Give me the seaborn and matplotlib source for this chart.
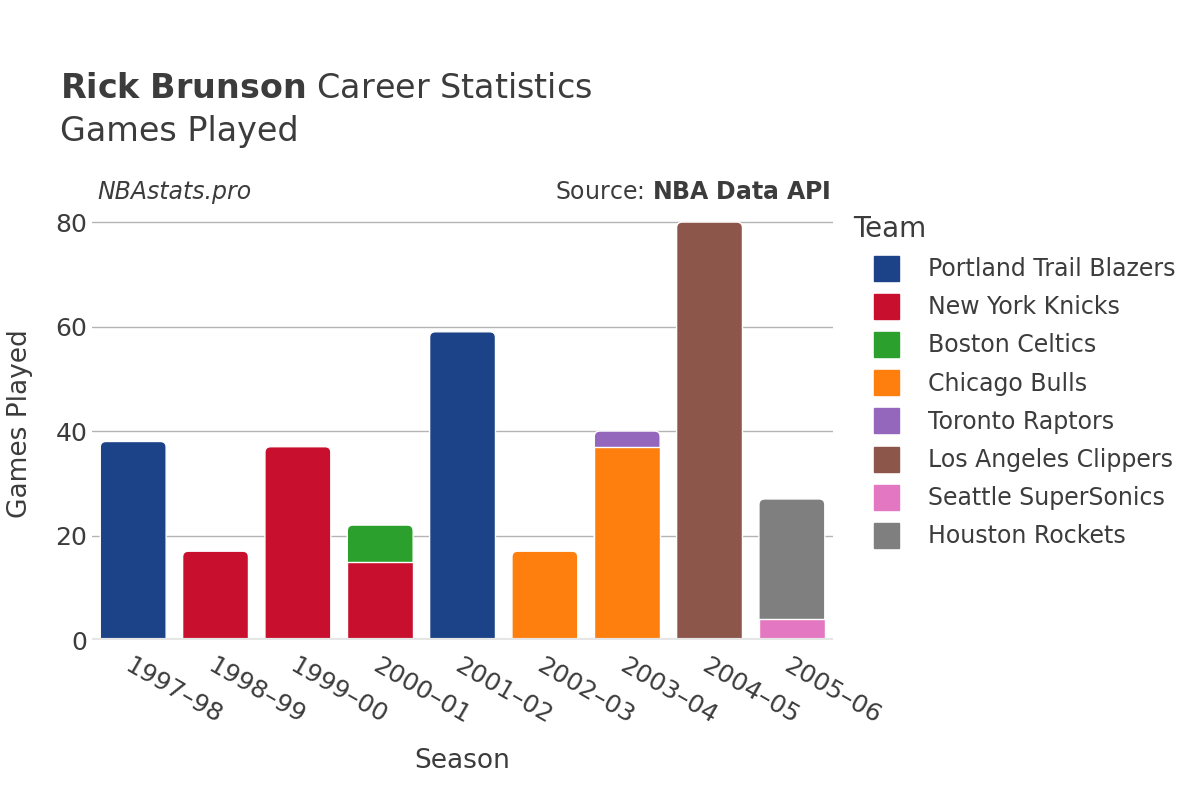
import numpy as np
import pandas as pd
import matplotlib
matplotlib.use('Agg')
import matplotlib.pyplot as plt
from matplotlib.patches import FancyBboxPatch
from matplotlib.lines import Line2D
import seaborn as sns

# data
seasons = ['1997–98', '1998–99', '1999–00', '2000–01', '2001–02',
           '2002–03', '2003–04', '2004–05', '2005–06']
teams = ['Portland Trail Blazers', 'New York Knicks', 'Boston Celtics', 'Chicago Bulls',
         'Toronto Raptors', 'Los Angeles Clippers', 'Seattle SuperSonics', 'Houston Rockets']
colors = ['#1c4387', '#c8102e', '#2ca02c', '#ff7f0e',
          '#9467bd', '#8c564b', '#e377c2', '#7f7f7f']
row_season = ['1997–98', '1998–99', '1999–00', '2000–01', '2000–01', '2001–02',
              '2002–03', '2003–04', '2003–04', '2004–05', '2005–06', '2005–06']
row_team = ['Portland Trail Blazers', 'New York Knicks', 'New York Knicks', 'New York Knicks',
            'Boston Celtics', 'Portland Trail Blazers', 'Chicago Bulls', 'Chicago Bulls',
            'Toronto Raptors', 'Los Angeles Clippers', 'Seattle SuperSonics', 'Houston Rockets']
row_games = [38, 17, 37, 15, 7, 59, 17, 37, 3, 80, 4, 23]

df = pd.DataFrame({'season': row_season, 'team': row_team, 'games': row_games})
df['rank'] = df['team'].map({t: i for i, t in enumerate(teams)})
df = df.sort_values(['season', 'rank'])
df['top'] = df.groupby('season')['games'].cumsum()

sns.set_style('white')
plt.rcParams['font.family'] = ['DejaVu Sans']
txt = '#3c3c3c'

fig = plt.figure(figsize=(12, 8), dpi=100)
ax = fig.add_axes([0.0767, 0.2, 0.6175, 0.542])
ax.set_ylim(0, 83)

for y in [20, 40, 60, 80]:
    ax.axhline(y, color='#b4b4b4', lw=1, zorder=0)

# stack by drawing the cumulative tops from the last team down
seen = set()
for team, col in reversed(list(zip(teams, colors))):
    sub = df[df['team'] == team]
    if sub.empty:
        continue
    before = list(ax.patches)
    sns.barplot(data=sub, x='season', y='top', order=seasons, color=col,
                width=0.8, edgecolor='white', linewidth=1, ax=ax, errorbar=None,
                saturation=1)
    new = [p for p in ax.patches if p not in before]
    for p in new:
        h = p.get_height()
        if not np.isfinite(h) or h <= 0:
            continue
        idx = int(round(p.get_x() + p.get_width() / 2))
        if idx in seen:
            continue
        # topmost segment of a season gets rounded corners
        seen.add(idx)
        x0, w = p.get_x(), p.get_width()
        p.remove()
        ax.add_patch(FancyBboxPatch((x0, -3), w, h + 3,
                                    boxstyle='round,pad=0,rounding_size=0.07',
                                    mutation_aspect=15.5, facecolor=col,
                                    edgecolor='white', linewidth=1))

ax.axhline(0, color='#e6e6e6', lw=3, zorder=3)
ax.set_xlim(-0.5, len(seasons) - 0.5)
sns.despine(ax=ax, left=True, bottom=True)
ax.set_yticks([0, 20, 40, 60, 80])
ax.tick_params(axis='both', length=0, labelsize=18, colors=txt)
ax.tick_params(axis='x', pad=10)
ax.set_xticks(range(len(seasons)))
ax.set_xticklabels(seasons, rotation=-30, ha='left', rotation_mode='anchor')
ax.set_xlabel('Season', fontsize=19, color=txt, labelpad=14)
ax.set_ylabel('Games Played', fontsize=19, color=txt, labelpad=16)

fig.text(0.05, 0.889, r'$\bf{Rick\ Brunson}$ Career Statistics', fontsize=24,
         color=txt, va='center')
fig.text(0.05, 0.835, 'Games Played', fontsize=24, color=txt, va='center')
fig.text(0.081, 0.76, 'NBAstats.pro', fontsize=17, style='italic', color=txt, va='center')
fig.text(0.6925, 0.76, r'Source: $\bf{NBA\ Data\ API}$', fontsize=17, color=txt,
         va='center', ha='right')

handles = [Line2D([], [], marker='s', ls='', markersize=18, markerfacecolor=c,
                  markeredgecolor=c) for c in colors]
leg = fig.legend(handles, teams, loc='upper left', bbox_to_anchor=(0.693, 0.758),
                 frameon=False, fontsize=17, title='Team', title_fontsize=20,
                 labelspacing=0.6, handlelength=2.85, handletextpad=0.35,
                 labelcolor=txt)
leg.get_title().set_color(txt)
leg._legend_box.align = 'left'

fig.savefig('out.png', dpi=100)
